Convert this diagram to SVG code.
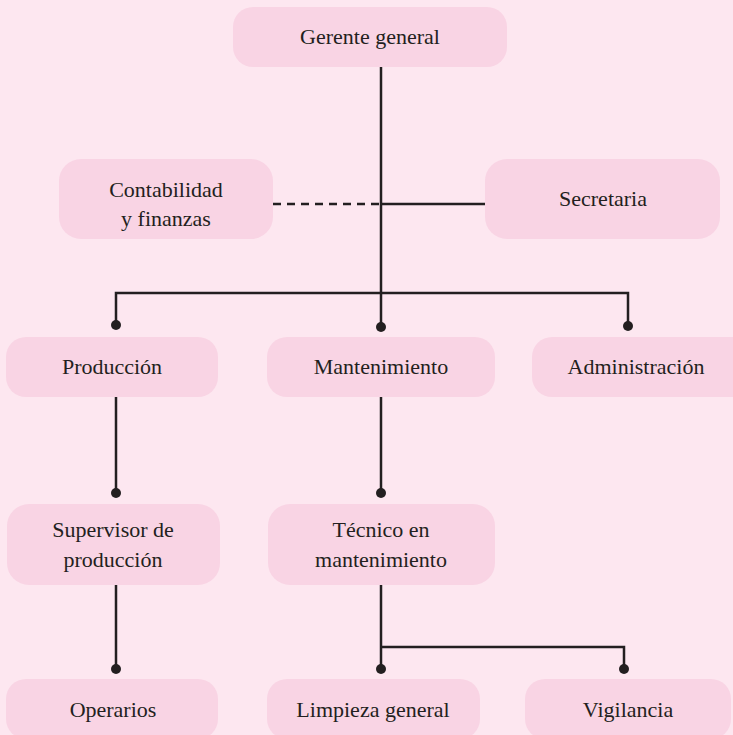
<svg xmlns="http://www.w3.org/2000/svg" width="733" height="735" viewBox="0 0 733 735">
<style>
.box{fill:#f9d4e4}
.t{font-family:"Liberation Serif","DejaVu Serif",serif;font-size:22px;fill:#231f20;text-anchor:middle}
.ln{stroke:#231f20;stroke-width:2.5;fill:none}
.dash{stroke:#231f20;stroke-width:2.5;stroke-dasharray:8 6;fill:none}
.dot{fill:#231f20}
</style>
<rect width="733" height="735" fill="#fde7f0"/>
<g id="connectors">
<path class="ln" d="M381 67V293"/>
<path class="ln" d="M381 204H485"/>
<path class="dash" d="M273 204H379"/>
<path class="ln" d="M116 325V293H628V325M381 293V327"/>
<path class="ln" d="M116 397V493"/>
<path class="ln" d="M381 397V493"/>
<path class="ln" d="M116 585V669"/>
<path class="ln" d="M381 585V669M381 647H624V669"/>
<circle class="dot" cx="116" cy="325" r="5"/>
<circle class="dot" cx="381" cy="327" r="5"/>
<circle class="dot" cx="628" cy="326" r="5"/>
<circle class="dot" cx="116" cy="493" r="5"/>
<circle class="dot" cx="381" cy="493" r="5"/>
<circle class="dot" cx="116" cy="669" r="5"/>
<circle class="dot" cx="381" cy="669" r="5"/>
<circle class="dot" cx="624" cy="669" r="5"/>
</g>
<g id="gerente"><rect class="box" x="233" y="7" width="274" height="60" rx="20"/><text class="t" x="370" y="44">Gerente general</text></g>
<g id="contabilidad"><rect class="box" x="59" y="159" width="214" height="80" rx="22"/><text class="t" x="166" y="197">Contabilidad</text><text class="t" x="166" y="226">y finanzas</text></g>
<g id="secretaria"><rect class="box" x="485" y="159" width="235" height="80" rx="22"/><text class="t" x="603" y="206">Secretaria</text></g>
<g id="produccion"><rect class="box" x="6" y="337" width="212" height="60" rx="20"/><text class="t" x="112" y="374">Producción</text></g>
<g id="mantenimiento"><rect class="box" x="267" y="337" width="228" height="60" rx="20"/><text class="t" x="381" y="374">Mantenimiento</text></g>
<g id="administracion"><rect class="box" x="532" y="337" width="220" height="60" rx="20"/><text class="t" x="636" y="374">Administración</text></g>
<g id="supervisor"><rect class="box" x="7" y="504" width="213" height="81" rx="22"/><text class="t" x="113" y="537">Supervisor de</text><text class="t" x="113" y="567">producción</text></g>
<g id="tecnico"><rect class="box" x="268" y="504" width="227" height="81" rx="22"/><text class="t" x="381" y="537">Técnico en</text><text class="t" x="381" y="567">mantenimiento</text></g>
<g id="operarios"><rect class="box" x="6" y="679" width="212" height="60" rx="20"/><text class="t" x="113" y="717">Operarios</text></g>
<g id="limpieza"><rect class="box" x="267" y="679" width="213" height="60" rx="20"/><text class="t" x="373" y="717">Limpieza general</text></g>
<g id="vigilancia"><rect class="box" x="525" y="679" width="206" height="60" rx="20"/><text class="t" x="628" y="717">Vigilancia</text></g>
</svg>
